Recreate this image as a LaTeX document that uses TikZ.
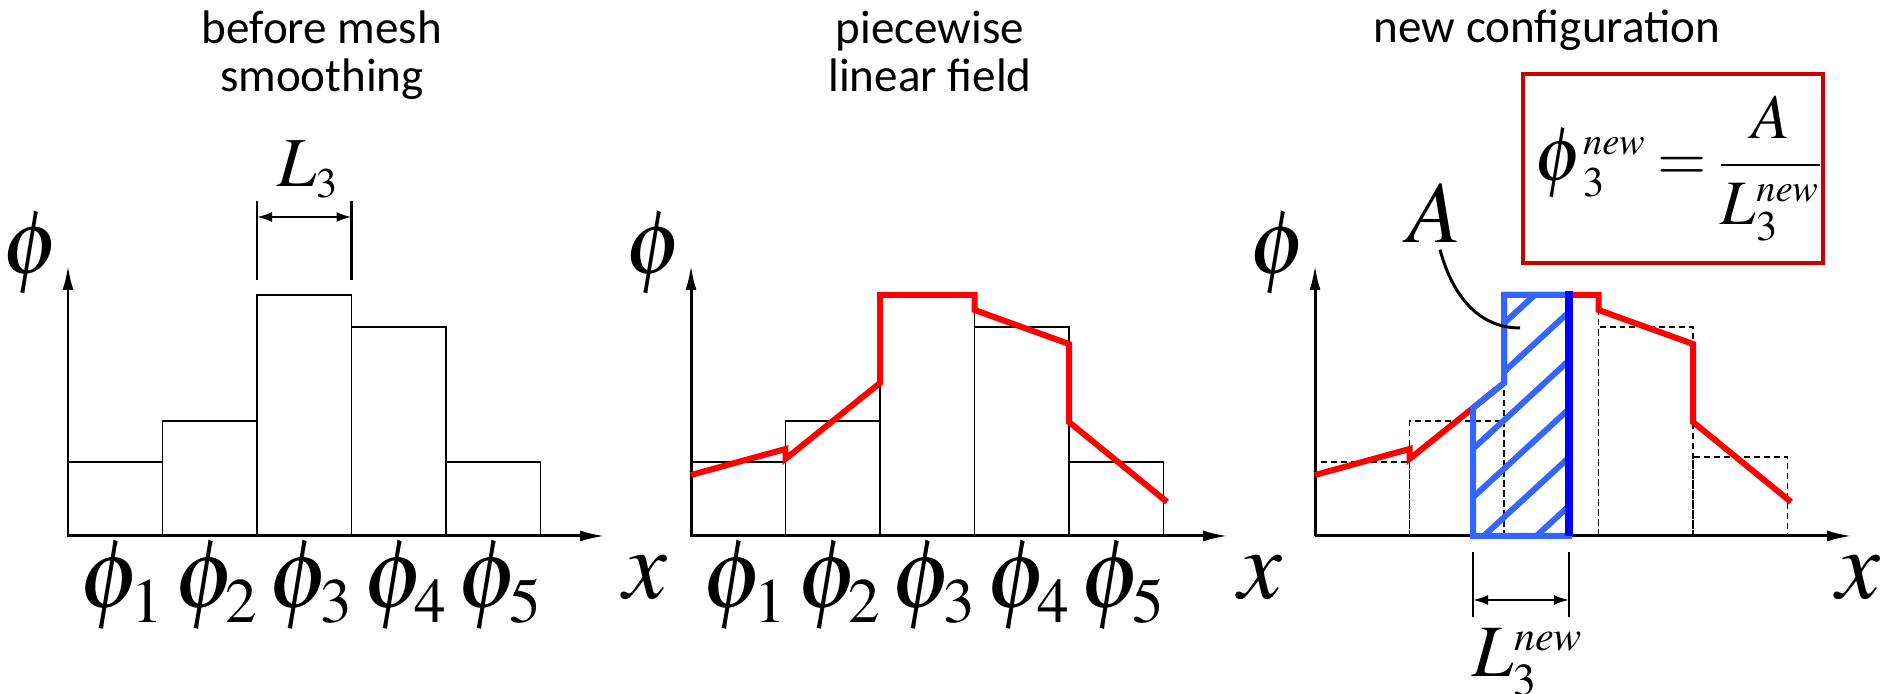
\documentclass[tikz,border=0pt]{standalone}
\usepackage{mathptmx}
\usepackage[no-math]{fontspec}
\newfontfamily\titlefont{Carlito}
\usepackage{tikz}
\usetikzlibrary{arrows.meta}
\definecolor{cellblue}{RGB}{51,102,255}
\definecolor{boxred}{RGB}{204,0,0}
% small index at a size of its own
\newcommand{\idx}[2]{\mbox{\fontsize{#1}{#1}\selectfont$#2$}}
\tikzset{axis/.style = {line width=0.85pt, -{Latex[length=0.25cm,width=0.11cm]}}}
\tikzset{bar/.style = {line width=0.45pt}}
\tikzset{oldbar/.style = {line width=0.45pt, dash pattern=on 0.06cm off 0.04cm}}
\tikzset{field/.style = {red, line width=1.7pt}}
\tikzset{dim/.style = {line width=0.6pt, {Latex[length=0.15cm,width=0.1cm]}-{Latex[length=0.15cm,width=0.1cm]}}}
\tikzset{ticks/.style = {line width=0.6pt}}
\tikzset{philbl/.style = {inner sep=0, font=\fontsize{26}{28}\selectfont}}
\tikzset{celllbl/.style = {inner sep=0, font=\fontsize{28}{30}\selectfont}}
\tikzset{xlbl/.style = {inner sep=0, font=\fontsize{28}{30}\selectfont}}
\tikzset{lenlbl/.style = {inner sep=0, anchor=base, font=\fontsize{20}{22}\selectfont}}
\tikzset{title/.style = {inner sep=0, align=center, anchor=base, font=\titlefont\fontsize{13.4}{13.9}\selectfont}}
\tikzset{hatch/.style = {cellblue, line width=1.7pt}}

\begin{document}
\begin{tikzpicture}
  \useasboundingbox (0,0) rectangle (18.82,6.94);

  % titles
  \node[title] (t1) at (3.22,6.02) {before mesh\\smoothing};
  \node[title] (t2) at (9.30,6.02) {piecewise\\linear field};
  \node[title] (t3) at (15.47,6.51) {new configuration};

  % before mesh smoothing
  \begin{scope}[shift={(0.68,1.58)}]
    \foreach \i/\h in {1/0.74, 2/1.15, 3/2.41, 4/2.09, 5/0.74}
      \draw[bar] ({(\i-1)*0.945},0) rectangle ({\i*0.945},\h);
    \coordinate (o1) at (0,0);
    \coordinate (ytip1) at (0,2.71);
    \coordinate (xtip1) at (5.37,0);
    \draw[axis] (o1) -- (ytip1);
    \draw[axis] (o1) -- (xtip1);
    \node[philbl] (phi1) at (-0.37,2.83) {$\phi$};
    \node[xlbl] (xlab1) at (5.77,-0.42) {$x$};
    \foreach \i in {1,...,5}
      \node[celllbl] (cellA\i) at ({(\i-0.5)*0.945+0.07},-0.50) {$\phi_{\idx{18}{\i}}$};
    % cell width
    \coordinate (la) at (1.89,3.19);
    \coordinate (lb) at (2.835,3.19);
    \draw[ticks] (1.89,2.56) -- (1.89,3.35);
    \draw[ticks] (2.835,2.56) -- (2.835,3.35);
    \draw[dim] (la) -- (lb);
    \node[lenlbl] (len3) at (2.40,3.49) {$L_{\idx{12}{3}}$};
  \end{scope}

  % piecewise linear field
  \begin{scope}[shift={(6.91,1.58)}]
    \foreach \i/\h in {1/0.74, 2/1.15, 3/2.41, 4/2.09, 5/0.74}
      \draw[bar] ({(\i-1)*0.945},0) rectangle ({\i*0.945},\h);
    \coordinate (o2) at (0,0);
    \coordinate (ytip2) at (0,2.71);
    \coordinate (xtip2) at (5.37,0);
    \draw[axis] (o2) -- (ytip2);
    \draw[axis] (o2) -- (xtip2);
    \draw[field] (0,0.61) -- (0.945,0.87) -- (0.945,0.77) -- (1.89,1.53)
      -- (1.89,2.41) -- (2.835,2.41) -- (2.835,2.26) -- (3.78,1.92)
      -- (3.78,1.14) -- (4.76,0.34);
    \node[philbl] (phi2) at (-0.37,2.83) {$\phi$};
    \node[xlbl] (xlab2) at (5.69,-0.42) {$x$};
    \foreach \i in {1,...,5}
      \node[celllbl] (cellB\i) at ({(\i-0.5)*0.945+0.07},-0.50) {$\phi_{\idx{18}{\i}}$};
  \end{scope}

  % new configuration
  \begin{scope}[shift={(13.15,1.58)}]
    \foreach \i/\h in {1/0.74, 2/1.15, 3/2.41, 4/2.09, 5/0.79}
      \draw[oldbar] ({(\i-1)*0.945},0) rectangle ({\i*0.945},\h);
    \coordinate (o3) at (0,0);
    \coordinate (ytip3) at (0,2.71);
    \coordinate (xtip3) at (5.37,0);
    \draw[axis] (o3) -- (ytip3);
    \draw[axis] (o3) -- (xtip3);
    \draw[field] (0,0.61) -- (0.945,0.87) -- (0.945,0.77) -- (1.89,1.53)
      -- (1.89,2.41) -- (2.835,2.41) -- (2.835,2.26) -- (3.78,1.92)
      -- (3.78,1.14) -- (4.76,0.34);
    % area A of the new cell
    \begin{scope}
      \clip (1.58,0) -- (1.58,1.28) -- (1.89,1.53) -- (1.89,2.41)
        -- (2.54,2.41) -- (2.54,0) -- cycle;
      \foreach \k in {0,...,5}
        \draw[hatch] (1.4,{0.30+0.485*\k-0.92*1.14}) -- (2.7,{0.30+0.485*\k+0.92*0.16});
    \end{scope}
    \draw[hatch] (1.58,0) -- (1.58,1.28) -- (1.89,1.53) -- (1.89,2.41)
      -- (2.54,2.41) -- (2.54,0) -- cycle;
    \draw[blue, line width=2.2pt] (2.54,0) -- (2.54,2.45);
    \node[philbl] (phi3) at (-0.37,2.83) {$\phi$};
    \node[xlbl] (xlab3) at (5.43,-0.42) {$x$};
    % new cell width
    \coordinate (na) at (1.58,-0.64);
    \coordinate (nb) at (2.54,-0.64);
    \draw[ticks] (1.58,-0.16) -- (1.58,-0.81);
    \draw[ticks] (2.54,-0.16) -- (2.54,-0.81);
    \draw[dim] (na) -- (nb);
    \node[lenlbl, font=\fontsize{21}{23}\selectfont] (len3new) at (2.13,-1.41) {$L^{\idx{12}{new}}_{\idx{13}{3}}$};
    \node[inner sep=0, anchor=base, font=\fontsize{25}{27}\selectfont] (area) at (1.19,2.93) {$A$};
    \coordinate (areapt) at (2.05,2.08);
    \draw[line width=0.85pt] ([xshift=0.06cm,yshift=-0.06cm]area.south) to[out=-75,in=180] (areapt);
  \end{scope}

  % formula in its box
  \node[draw=boxred, line width=1.2pt, minimum width=3.0cm, minimum height=1.89cm,
        inner sep=0] (rule) at (16.73,5.255) {};
  \node[inner sep=0, font=\fontsize{18}{21}\selectfont] (ruletext) at (16.79,5.255)
        {\thickmuskip=3mu$\displaystyle \raisebox{0pt}[0.25cm][0.05cm]{\fontsize{22}{23}\selectfont$\phi$}^{\idx{11}{new}}_{\idx{12}{3}}
          = \frac{A}{L^{\idx{11}{new}}_{\idx{12}{3}}}$};
\end{tikzpicture}
\end{document}
